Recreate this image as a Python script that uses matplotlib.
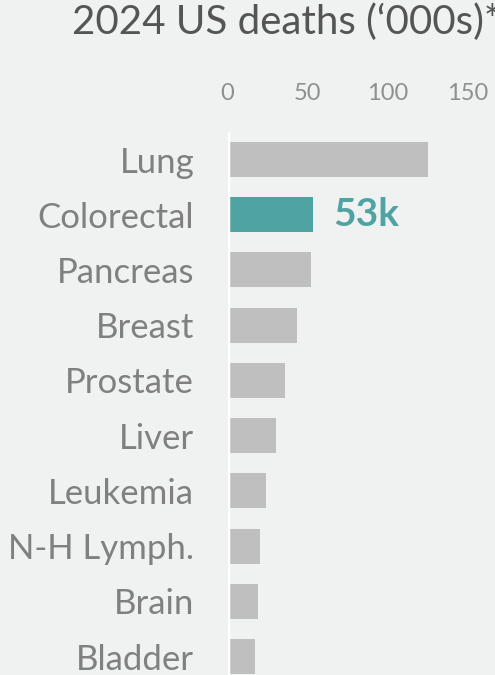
import matplotlib.pyplot as plt
import numpy as np

# data ('000s of deaths, 2024 US)
cancers = ["Lung", "Colorectal", "Pancreas", "Breast", "Prostate",
           "Liver", "Leukemia", "N-H Lymph.", "Brain", "Bladder"]
deaths = [125.1, 53.0, 51.8, 42.8, 35.3, 29.8, 23.7, 20.1, 18.8, 16.8]
highlight = "Colorectal"
xticks = [0, 50, 100, 150]

bg = "#f0f2f1"
grey = "#bfbfbf"
teal = "#4fa3a3"

plt.rcParams['font.family'] = ['Lato', 'DejaVu Sans']

fig = plt.figure(figsize=(4.95, 6.75), dpi=100)
fig.patch.set_facecolor(bg)
W, H = 495, 675
# axes: zero line at x=227.5px, top at 132px, bottom at page edge
ax = fig.add_axes([227.5 / W, 0, (W - 227.5) / W, (H - 132) / H])
ax.set_facecolor(bg)

y = np.arange(len(cancers))
colors = [teal if c == highlight else grey for c in cancers]
ax.barh(y, deaths, height=0.635, color=colors, left=0.4)

ax.set_xlim(0, (W - 227.5) / 1.6)
ax.set_ylim(9.335, -0.498)
ax.axvline(0, color="white", lw=2.5)

for s in ax.spines.values():
    s.set_visible(False)

ax.xaxis.tick_top()
ax.set_xticks(xticks)
ax.set_xticklabels([str(t) for t in xticks])
ax.tick_params(axis='x', length=0, pad=20, labelsize=17, labelcolor="#8f8f8f")
ax.set_yticks(y)
ax.set_yticklabels(cancers)
ax.tick_params(axis='y', length=0, pad=24, labelsize=25, labelcolor="#808080")

i = cancers.index(highlight)
ax.text(deaths[i] + 13, i, f"{deaths[i]:.0f}k", color=teal, fontsize=28,
        fontweight='bold', va='center', ha='left')

fig.text(72 / W, 1 - 22 / H, "2024 US deaths (\u2018000s)*", ha='left', va='center',
         fontsize=29, color="#555555")

fig.savefig("out.png", dpi=100, facecolor=bg)
